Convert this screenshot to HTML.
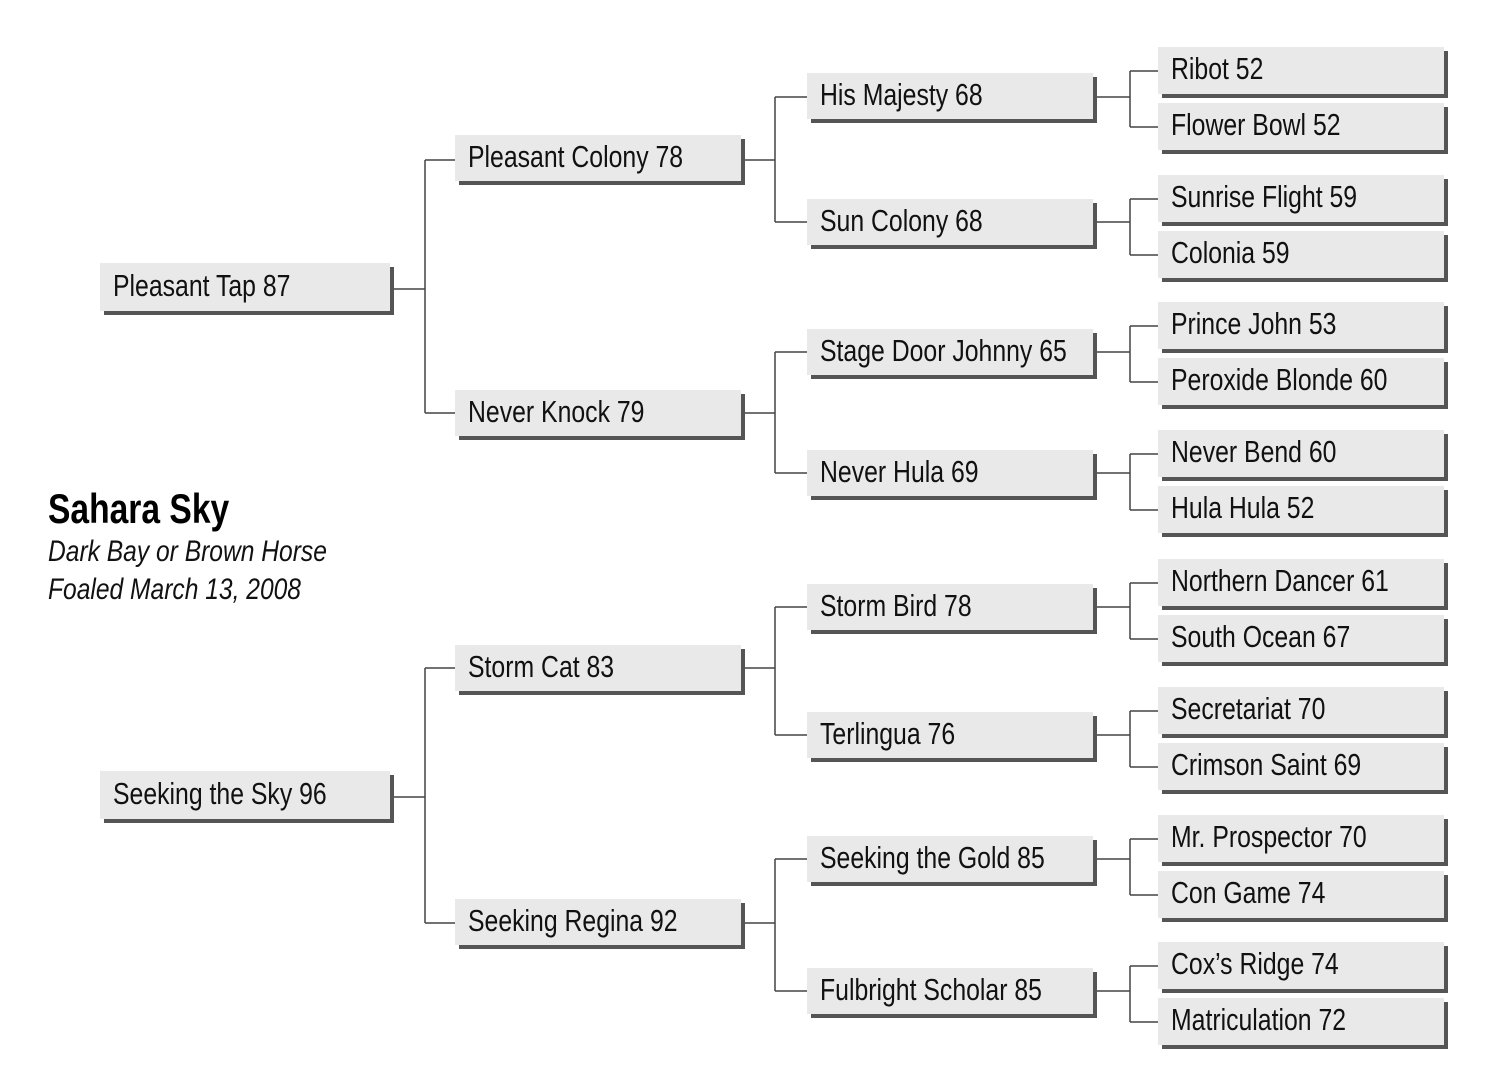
<!DOCTYPE html>
<html><head><meta charset="utf-8">
<style>
body{margin:0;width:1501px;height:1080px;background:#fff;position:relative;overflow:hidden;font-family:"Liberation Sans",sans-serif;}
.b{position:absolute;background:#e9e9e9;box-shadow:4px 4px 0 #555;color:#111;font-size:31px;line-height:1;box-sizing:border-box;padding-left:13px;display:flex;align-items:center;white-space:nowrap;}
.b span{display:inline-block;transform:translateY(-2px) scaleX(0.8);transform-origin:left center}
.g1{left:100px;width:290px;height:48px}
.g2{left:455px;width:286px;height:46px}
.g3{left:807px;width:286px;height:46px}
.g4{left:1158px;width:286px;height:47px}
svg{position:absolute;left:0;top:0}
.t{position:absolute;left:48px;white-space:nowrap;transform-origin:left top}
</style></head><body>
<svg width="1501" height="1080"><g stroke="#444" stroke-width="1.5" fill="none">
<path d="M392 289H425M425 160V413M425 160H455M425 413H455"/>
<path d="M392 797H425M425 668V923M425 668H455M425 923H455"/>
<path d="M743 160H775M775 97V222M775 97H807M775 222H807"/>
<path d="M743 413H775M775 352V473M775 352H807M775 473H807"/>
<path d="M743 668H775M775 607V735M775 607H807M775 735H807"/>
<path d="M743 923H775M775 859V991M775 859H807M775 991H807"/>
<path d="M1095 97H1130M1130 71V127M1130 71H1158M1130 127H1158"/>
<path d="M1095 222H1130M1130 199V255M1130 199H1158M1130 255H1158"/>
<path d="M1095 352H1130M1130 326V382M1130 326H1158M1130 382H1158"/>
<path d="M1095 473H1130M1130 454V510M1130 454H1158M1130 510H1158"/>
<path d="M1095 607H1130M1130 583V639M1130 583H1158M1130 639H1158"/>
<path d="M1095 735H1130M1130 711V767M1130 711H1158M1130 767H1158"/>
<path d="M1095 859H1130M1130 839V895M1130 839H1158M1130 895H1158"/>
<path d="M1095 991H1130M1130 966V1022M1130 966H1158M1130 1022H1158"/>
</g></svg>
<div class="b g1" style="top:263px"><span>Pleasant Tap 87</span></div>
<div class="b g1" style="top:771px"><span>Seeking the Sky 96</span></div>
<div class="b g2" style="top:135px"><span>Pleasant Colony 78</span></div>
<div class="b g2" style="top:390px"><span>Never Knock 79</span></div>
<div class="b g2" style="top:645px"><span>Storm Cat 83</span></div>
<div class="b g2" style="top:899px"><span>Seeking Regina 92</span></div>
<div class="b g3" style="top:73px"><span>His Majesty 68</span></div>
<div class="b g3" style="top:199px"><span>Sun Colony 68</span></div>
<div class="b g3" style="top:329px"><span>Stage Door Johnny 65</span></div>
<div class="b g3" style="top:450px"><span>Never Hula 69</span></div>
<div class="b g3" style="top:584px"><span>Storm Bird 78</span></div>
<div class="b g3" style="top:712px"><span>Terlingua 76</span></div>
<div class="b g3" style="top:836px"><span>Seeking the Gold 85</span></div>
<div class="b g3" style="top:968px"><span>Fulbright Scholar 85</span></div>
<div class="b g4" style="top:47px"><span>Ribot 52</span></div>
<div class="b g4" style="top:103px"><span>Flower Bowl 52</span></div>
<div class="b g4" style="top:175px"><span>Sunrise Flight 59</span></div>
<div class="b g4" style="top:231px"><span>Colonia 59</span></div>
<div class="b g4" style="top:302px"><span>Prince John 53</span></div>
<div class="b g4" style="top:358px"><span>Peroxide Blonde 60</span></div>
<div class="b g4" style="top:430px"><span>Never Bend 60</span></div>
<div class="b g4" style="top:486px"><span>Hula Hula 52</span></div>
<div class="b g4" style="top:559px"><span>Northern Dancer 61</span></div>
<div class="b g4" style="top:615px"><span>South Ocean 67</span></div>
<div class="b g4" style="top:687px"><span>Secretariat 70</span></div>
<div class="b g4" style="top:743px"><span>Crimson Saint 69</span></div>
<div class="b g4" style="top:815px"><span>Mr. Prospector 70</span></div>
<div class="b g4" style="top:871px"><span>Con Game 74</span></div>
<div class="b g4" style="top:942px"><span>Cox’s Ridge 74</span></div>
<div class="b g4" style="top:998px"><span>Matriculation 72</span></div>
<div class="t" style="top:485px;font-size:42px;font-weight:bold;color:#000;transform:scaleX(0.8)">Sahara Sky</div>
<div class="t" style="top:535px;font-size:30px;font-style:italic;color:#111;transform:scaleX(0.82)">Dark Bay or Brown Horse</div>
<div class="t" style="top:573px;font-size:30px;font-style:italic;color:#111;transform:scaleX(0.82)">Foaled March 13, 2008</div>
</body></html>
